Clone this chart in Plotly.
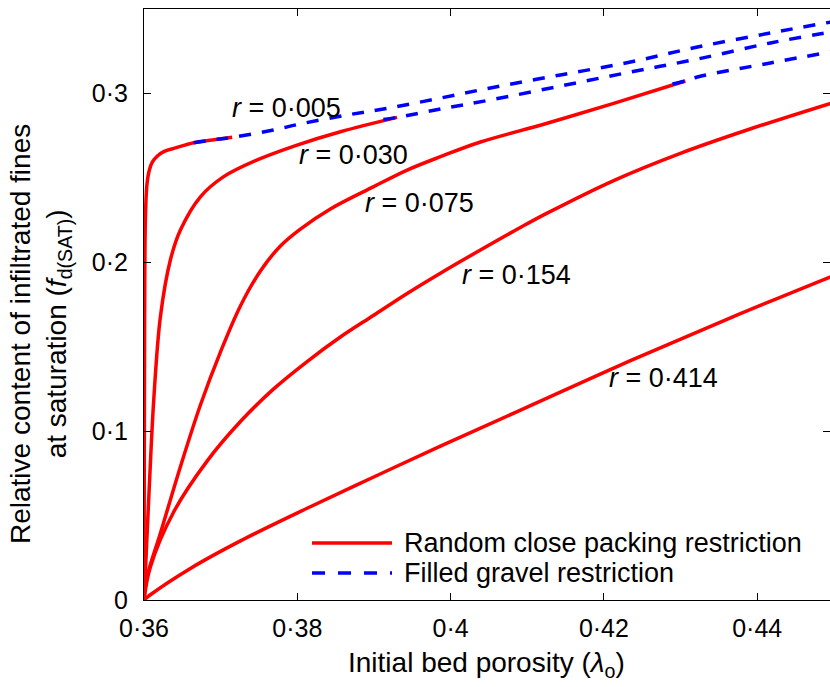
import plotly.graph_objects as go

# ---------------- data ----------------
r_labels = ["0·005", "0·030", "0·075", "0·154", "0·414"]

# Random close packing restriction (red, solid)
rcp_005_x = [0.36, 0.36004, 0.36008, 0.36018, 0.36038, 0.3607, 0.3611, 0.36175, 0.36257, 0.3641, 0.36648, 0.36892, 0.3715]
rcp_005_y = [0.0, 0.0888, 0.1657, 0.2249, 0.2456, 0.2544, 0.2592, 0.2627, 0.2653, 0.2675, 0.2706, 0.2722, 0.2738]

rcp_030_x = [0.36, 0.36025, 0.36061, 0.36127, 0.36214, 0.36344, 0.36475, 0.36736, 0.3704, 0.37476, 0.37997, 0.38563, 0.39302]
rcp_030_y = [0.0, 0.0237, 0.0592, 0.1183, 0.1676, 0.2012, 0.2189, 0.2386, 0.2505, 0.2604, 0.2692, 0.2771, 0.2856]

rcp_075_x = [0.36, 0.3604, 0.36214, 0.36475, 0.36736, 0.36997, 0.37258, 0.37519, 0.3778, 0.3804, 0.38432, 0.38997, 0.39433, 0.39867, 0.40389, 0.41259, 0.42128, 0.43063]
rcp_075_y = [0.0, 0.0138, 0.0395, 0.0789, 0.1154, 0.1467, 0.1740, 0.1947, 0.2095, 0.2195, 0.2314, 0.2446, 0.2544, 0.2623, 0.2710, 0.2821, 0.2939, 0.3071]

rcp_154_x = [0.36, 0.36083, 0.36387, 0.36823, 0.37258, 0.37692, 0.38128, 0.38562, 0.38997, 0.39433, 0.39867, 0.40389, 0.4091, 0.41259, 0.42128, 0.42998, 0.43868, 0.4496]
rcp_154_y = [0.0, 0.0195, 0.0521, 0.0822, 0.1056, 0.1249, 0.1411, 0.1556, 0.1685, 0.1814, 0.1934, 0.2071, 0.2204, 0.2289, 0.2482, 0.2643, 0.2781, 0.2939]

rcp_414_x = [0.36, 0.36083, 0.36605, 0.37258, 0.38128, 0.38997, 0.39867, 0.41041, 0.42346, 0.43651, 0.4496]
rcp_414_y = [0.0, 0.0031, 0.0187, 0.0350, 0.0543, 0.0728, 0.0910, 0.1150, 0.1416, 0.1670, 0.1913]

# Filled gravel restriction (blue, dashed)
fg_005_x = [0.36648, 0.36892, 0.3715, 0.37688, 0.3804, 0.38654, 0.39215, 0.39867, 0.40519, 0.41433, 0.42346, 0.4322, 0.44172, 0.4496]
fg_005_y = [0.2706, 0.2722, 0.2738, 0.2781, 0.2817, 0.2870, 0.2913, 0.2970, 0.3030, 0.3107, 0.3183, 0.3272, 0.3355, 0.3420]

fg_030_x = [0.39123, 0.39302, 0.39867, 0.40519, 0.41433, 0.42346, 0.4322, 0.44172, 0.4496]
fg_030_y = [0.2843, 0.2856, 0.2905, 0.2959, 0.3041, 0.3124, 0.3201, 0.3296, 0.3361]

fg_075_x = [0.42895, 0.43063, 0.4322, 0.44172, 0.4496]
fg_075_y = [0.3053, 0.3071, 0.3095, 0.3178, 0.3243]

# label anchor positions (data coords, left edge / vertical middle of text)
label_x = [0.37127, 0.38001, 0.38862, 0.40128, 0.42045]
label_y = [0.2911, 0.2633, 0.2349, 0.1923, 0.1314]

x_tickvals = [0.36, 0.38, 0.40, 0.42, 0.44]
x_ticktext = ["0·36", "0·38", "0·4", "0·42", "0·44"]
y_tickvals = [0.0, 0.1, 0.2, 0.3]
y_ticktext = ["0", "0·1", "0·2", "0·3"]

legend_names = ["Random close packing restriction", "Filled gravel restriction"]

# ---------------- figure ----------------
W, H = 830, 687
ML, MT, MB, MR = 144, 9, 87, 0
PW, PH = W - ML - MR, H - MT - MB
FONT = "Liberation Sans, Arial, Helvetica, sans-serif"
RED, BLUE = "#ff0000", "#0000ff"
LW = 3.5
DASH = "12px,11px"


def px(xp):
    return (xp - ML) / PW


def py(yp):
    return (H - MB - yp) / PH


fig = go.Figure()
for xs, ys in [(rcp_005_x, rcp_005_y), (rcp_030_x, rcp_030_y), (rcp_075_x, rcp_075_y),
               (rcp_154_x, rcp_154_y), (rcp_414_x, rcp_414_y)]:
    fig.add_trace(go.Scatter(x=xs, y=ys, mode="lines", name=legend_names[0], showlegend=False,
                             line=dict(color=RED, width=LW), line_shape="spline"))
for xs, ys in [(fg_005_x, fg_005_y), (fg_030_x, fg_030_y), (fg_075_x, fg_075_y)]:
    fig.add_trace(go.Scatter(x=xs, y=ys, mode="lines", name=legend_names[1], showlegend=False,
                             line=dict(color=BLUE, width=LW, dash=DASH), line_shape="spline"))
# invisible trace to activate the right-hand tick axis
fig.add_trace(go.Scatter(x=[0.36], y=[0], yaxis="y2", mode="markers", marker=dict(opacity=0),
                         showlegend=False, hoverinfo="skip"))

xr = [0.36, 0.36 + PW / 7665.0]
yr = [0.0, PH / 1690.0]

fig.update_layout(
    width=W, height=H,
    margin=dict(l=ML, r=MR, t=MT, b=MB, pad=0),
    paper_bgcolor="white", plot_bgcolor="white",
    font=dict(family=FONT, size=25, color="black"),
    showlegend=False,
    xaxis=dict(range=xr, tickvals=x_tickvals, ticktext=x_ticktext, ticks="inside", ticklen=7,
               tickcolor="black", showline=True, linecolor="black", linewidth=1, mirror="ticks",
               showgrid=False, zeroline=False, tickfont=dict(size=25), ticklabelstandoff=6),
    yaxis=dict(range=yr, tickvals=y_tickvals, ticktext=y_ticktext, ticks="inside", ticklen=7,
               tickcolor="black", showline=True, linecolor="black", linewidth=1, mirror=False,
               showgrid=False, zeroline=False, tickfont=dict(size=25), ticklabelstandoff=10),
    yaxis2=dict(range=yr, overlaying="y", side="right", tickvals=y_tickvals, ticks="inside",
                ticklen=7, tickcolor="black", showticklabels=False, showline=False,
                showgrid=False, zeroline=False),
)

ann = []
for lab, lx, ly in zip(r_labels, label_x, label_y):
    ann.append(dict(x=lx, y=ly, xref="x", yref="y", text="<i>r</i> = " + lab, showarrow=False,
                    xanchor="left", yanchor="middle", font=dict(size=27)))
# axis titles
ann.append(dict(x=px(486), y=py(664), xref="paper", yref="paper",
                text="Initial bed porosity (<i>λ</i><sub>o</sub>)", showarrow=False,
                xanchor="center", yanchor="middle", font=dict(size=28)))
ann.append(dict(x=px(40), y=py(334), xref="paper", yref="paper",
                text="Relative content of infiltrated fines<br>at saturation (<i>f</i><sub>d(SAT)</sub>)",
                textangle=-90, showarrow=False, xanchor="center", yanchor="middle",
                font=dict(size=28)))
# legend text
ann.append(dict(x=px(402), y=py(543), xref="paper", yref="paper", text=legend_names[0],
                showarrow=False, xanchor="left", yanchor="middle", font=dict(size=27)))
ann.append(dict(x=px(402), y=py(573), xref="paper", yref="paper", text=legend_names[1],
                showarrow=False, xanchor="left", yanchor="middle", font=dict(size=27)))
fig.update_layout(annotations=ann)

fig.add_shape(type="line", xref="paper", yref="paper", x0=px(312), x1=px(392), y0=py(543), y1=py(543),
              line=dict(color=RED, width=LW))
fig.add_shape(type="line", xref="paper", yref="paper", x0=px(312), x1=px(392), y0=py(573), y1=py(573),
              line=dict(color=BLUE, width=LW, dash="13px,13px"))

fig.write_html("out.html", config={"displayModeBar": False},
               post_script="document.body.style.margin='0';document.body.style.overflow='hidden';")
